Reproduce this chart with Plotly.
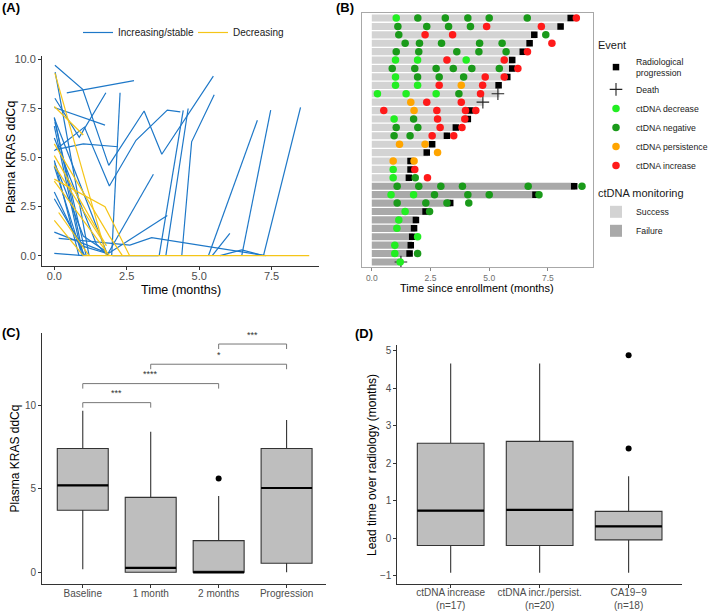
import plotly.graph_objects as go

W, H = 709, 611
def px(x): return x / W
def py(y): return 1 - y / H

# ---------------- Panel A data: trajectories ----------------
inc_x = [
    [0.02, 0.98, 1.88, 3.10, 3.71, 5.49],
    [0.43, 2.75],
    [0.00, 1.75],
    [0.02, 0.86, 1.78],
    [0.00, 1.04, 1.90, 2.82, 3.90, 4.35],
    [0.05, 1.00, 2.20],
    [1.98, 2.27],
    [1.81, 3.42],
    [1.85, 3.90],
    [3.62, 4.45],
    [3.85, 4.62],
    [4.40, 4.74, 5.52],
    [5.32, 7.01],
    [6.47, 7.47],
    [7.22, 8.50],
    [5.45, 6.06],
    [5.72, 6.47, 7.22],
    [0.15, 2.61, 3.36, 7.30],
    [0.00, 1.86],
    [0.00, 1.00],
    [0.00, 1.00],
    [0.02, 1.10],
    [0.00, 0.95],
    [0.00, 0.85],
    [0.00, 0.90],
    [0.00, 1.05],
    [0.03, 1.20],
    [0.00, 1.85],
    [0.00, 1.45, 1.85],
    [0.00, 0.95, 1.85],
    [2.00, 3.60],
    [0.02, 1.00, 1.80],
]
inc_y = [
    [9.70, 8.48, 4.60, 7.37, 5.17, 9.15],
    [8.30, 8.92],
    [7.55, 6.65],
    [8.02, 6.03, 8.30],
    [5.35, 6.55, 3.55, 5.88, 7.42, 7.33],
    [5.40, 5.70, 5.55],
    [0.00, 8.30],
    [0.00, 4.15],
    [0.10, 2.05],
    [0.00, 7.40],
    [0.00, 7.50],
    [0.00, 5.80, 8.20],
    [0.00, 6.90],
    [0.00, 7.42],
    [0.00, 7.56],
    [0.00, 1.14],
    [0.00, 0.30, 0.00],
    [0.88, 0.54, 0.92, 0.00],
    [1.20, 0.12],
    [0.12, 0.00],
    [7.05, 0.00],
    [6.80, 0.00],
    [6.60, 0.05],
    [4.85, 0.00],
    [4.55, 0.30],
    [3.25, 0.00],
    [9.35, 0.00],
    [7.00, 0.00],
    [6.00, 0.60, 0.00],
    [2.90, 0.50, 0.10],
    [0.00, 0.00],
    [4.70, 1.00, 0.20],
]
dec_x = [
    [0.02, 1.80],
    [0.00, 1.00],
    [0.00, 1.75, 2.60],
    [0.00, 1.90, 2.35],
    [0.00, 1.80],
    [0.00, 1.60],
    [0.00, 1.00],
    [0.15, 1.20],
    [0.00, 1.90],
    [1.00, 8.80],
]
dec_y = [
    [9.30, 0.00],
    [7.60, 6.15],
    [3.90, 2.50, 0.00],
    [5.70, 1.00, 0.00],
    [5.10, 0.50],
    [4.60, 0.90],
    [1.80, 0.00],
    [2.20, 0.00],
    [3.80, 0.00],
    [0.00, 0.00],
]

# ---------------- Panel B data ----------------
rows = list(range(1, 31))
bar_end = [8.57, 8.14, 7.00, 6.79, 6.49, 6.05, 6.05, 5.82, 5.47, 5.44,
           4.76, 4.26, 4.13, 3.64, 3.25, 2.63, 2.40, 1.70, 1.70, 1.63,
           8.66, 7.02, 3.37, 2.34, 1.95, 1.86, 1.76, 1.72, 1.65, 1.14]
monitoring = ["Success"] * 20 + ["Failure"] * 10

prog_row = [1, 2, 3, 4, 5, 6, 7, 8, 9, 12, 13, 14, 15, 16, 17, 18, 19, 20,
            21, 22, 23, 24, 25, 26, 27, 28, 29]
prog_t = [8.47, 8.04, 6.92, 6.72, 6.43, 5.98, 5.98, 5.77, 5.40, 4.20, 4.09, 3.58,
          3.20, 2.57, 2.34, 1.65, 1.65, 1.58, 8.62, 6.97, 3.34, 2.29, 1.88, 1.80,
          1.72, 1.66, 1.61]
death_row = [10, 11, 30]
death_t = [5.37, 4.73, 1.24]
decr_row = [1, 6, 6, 6, 8, 9, 9, 10, 10, 10, 13, 19, 20, 22, 22, 24, 25, 26, 27, 28, 29, 30]
decr_t = [1.04, 1.01, 1.95, 4.02, 1.01, 1.01, 1.95, 0.24, 1.46, 2.74, 0.95, 0.91, 0.91,
          0.82, 1.78, 1.42, 1.15, 1.07, 1.95, 0.98, 0.98, 1.21]
neg_row = [1, 1, 1, 1, 1, 2, 2, 2, 2, 3, 3, 4, 4, 4, 4, 4, 5, 5, 5, 5, 5,
           7, 7, 7, 7, 7, 7, 8, 8, 8, 10, 13, 14, 14, 15, 15, 20,
           21, 21, 21, 21, 21, 21, 22, 22, 22, 22, 23, 23, 23, 23, 24, 29]
neg_t = [1.96, 3.13, 4.09, 5.00, 6.62, 1.11, 2.34, 3.27, 4.20, 1.15, 7.41,
         1.42, 2.03, 2.97, 4.59, 5.55, 1.04, 2.00, 3.62, 4.56, 5.72,
         0.87, 1.83, 2.74, 3.47, 4.26, 5.43, 1.95, 2.87, 3.91, 3.71, 1.78,
         1.04, 1.96, 0.95, 1.63, 1.85,
         1.08, 2.00, 2.94, 3.86, 6.66, 8.95, 2.67, 4.09, 5.00, 7.12,
         1.08, 2.30, 3.20, 4.13, 2.46, 1.95]
pers_row = [9, 11, 12, 16, 16, 17, 18, 18]
pers_t = [3.81, 1.66, 1.80, 1.18, 2.27, 2.80, 0.91, 1.80]
incr_row = [1, 2, 2, 3, 3, 4, 5, 6, 6, 7, 8, 8, 9, 9, 10, 11, 11, 12, 12, 12, 12,
            13, 13, 14, 14, 15, 15, 19, 20]
incr_t = [8.71, 4.89, 7.22, 2.27, 3.44, 7.67, 6.63, 3.20, 5.64, 6.22, 4.83, 5.64,
          2.87, 4.72, 4.63, 2.34, 3.81, 0.51, 2.77, 3.99, 4.43, 2.80, 3.96,
          2.91, 3.84, 2.57, 3.49, 1.83, 2.37]

# ---------------- Panel C data ----------------
c_cats = ["Baseline", "1 month", "2 months", "Progression"]
c_low = [0.18, 0.00, 0.00, 0.00]
c_q1 = [3.72, 0.00, 0.00, 0.54]
c_med = [5.21, 0.26, 0.00, 5.05]
c_q3 = [7.41, 4.49, 1.90, 7.41]
c_high = [9.67, 8.42, 4.57, 9.12]
c_out_pos = [2]
c_out_val = [5.61]
c_sig_from = [0, 0, 1, 2]
c_sig_to = [1, 2, 3, 3]
c_sig_y = [10.16, 11.30, 12.46, 13.67]
c_sig_label = ["***", "****", "*", "***"]

# ---------------- Panel D data ----------------
d_cats = ["ctDNA increase<br>(n=17)", "ctDNA incr./persist.<br>(n=20)", "CA19\u22129<br>(n=18)"]
d_low = [-0.93, -0.93, -0.93]
d_q1 = [-0.20, -0.20, -0.05]
d_med = [0.73, 0.75, 0.31]
d_q3 = [2.53, 2.58, 0.71]
d_high = [4.66, 4.66, 1.65]
d_out_pos = [2, 2]
d_out_val = [2.39, 4.88]

BLUE = "#1E78C8"
YELLOW = "#F5C518"
FONT = "Liberation Sans, Arial, sans-serif"

fig = go.Figure()

def join(xs, ys):
    X, Y = [], []
    for a, b in zip(xs, ys):
        X += a + [None]
        Y += b + [None]
    return X, Y

ix, iy = join(inc_x, inc_y)
dx, dy = join(dec_x, dec_y)
fig.add_trace(go.Scatter(x=ix, y=iy, mode="lines", line=dict(color=BLUE, width=1.2),
                         name="Increasing/stable", legend="legend3", xaxis="x", yaxis="y"))
fig.add_trace(go.Scatter(x=dx, y=dy, mode="lines", line=dict(color=YELLOW, width=1.2),
                         name="Decreasing", legend="legend3", xaxis="x", yaxis="y"))

# Panel B bars
for lab, col in [("Success", "#D3D3D3"), ("Failure", "#A9A9A9")]:
    xs = [e for e, m in zip(bar_end, monitoring) if m == lab]
    ys = [r for r, m in zip(rows, monitoring) if m == lab]
    fig.add_trace(go.Bar(x=xs, y=ys, base=0, orientation="h", width=0.85,
                         marker=dict(color=col, line=dict(width=0)), name=lab,
                         legend="legend2", xaxis="x2", yaxis="y2"))

fig.add_trace(go.Scatter(x=prog_t, y=prog_row, mode="markers", name="Radiological<br>progression",
                         marker=dict(symbol="square", size=6.5, color="black"),
                         legend="legend", xaxis="x2", yaxis="y2"))
fig.add_trace(go.Scatter(x=death_t, y=death_row, mode="markers", name="Death",
                         marker=dict(symbol="cross-thin", size=9, color="#222",
                                     line=dict(width=1.1, color="#222")),
                         legend="legend", xaxis="x2", yaxis="y2"))
for name, t, r, col in [("ctDNA decrease", decr_t, decr_row, "#22EE22"),
                        ("ctDNA negative", neg_t, neg_row, "#1A9A1A"),
                        ("ctDNA persistence", pers_t, pers_row, "#FFA500"),
                        ("ctDNA increase", incr_t, incr_row, "#FF1A1A")]:
    fig.add_trace(go.Scatter(x=t, y=r, mode="markers", name=name,
                             marker=dict(symbol="circle", size=7.5, color=col),
                             legend="legend", xaxis="x2", yaxis="y2"))

# Panel C boxes
fig.add_trace(go.Box(x=list(range(4)), q1=c_q1, median=c_med, q3=c_q3,
                     lowerfence=c_low, upperfence=c_high, width=0.75, whiskerwidth=0,
                     fillcolor="#BEBEBE", line=dict(color="#333333", width=1.1),
                     boxpoints=False, showlegend=False, xaxis="x3", yaxis="y3"))
mx, my = [], []
for i, m in enumerate(c_med):
    mx += [i - 0.375, i + 0.375, None]
    my += [m, m, None]
fig.add_trace(go.Scatter(x=mx, y=my, mode="lines", line=dict(color="black", width=2.2),
                         showlegend=False, xaxis="x3", yaxis="y3", hoverinfo="skip"))
fig.add_trace(go.Scatter(x=c_out_pos, y=c_out_val, mode="markers",
                         marker=dict(color="black", size=6), showlegend=False,
                         xaxis="x3", yaxis="y3"))
bx, by = [], []
for a, b, yv in zip(c_sig_from, c_sig_to, c_sig_y):
    bx += [a, a, b, b, None]
    by += [yv - 0.3, yv, yv, yv - 0.3, None]
fig.add_trace(go.Scatter(x=bx, y=by, mode="lines", line=dict(color="#777777", width=1),
                         showlegend=False, xaxis="x3", yaxis="y3", hoverinfo="skip"))

# Panel D boxes
fig.add_trace(go.Box(x=list(range(3)), q1=d_q1, median=d_med, q3=d_q3,
                     lowerfence=d_low, upperfence=d_high, width=0.75, whiskerwidth=0,
                     fillcolor="#BEBEBE", line=dict(color="#333333", width=1.1),
                     boxpoints=False, showlegend=False, xaxis="x4", yaxis="y4"))
mx, my = [], []
for i, m in enumerate(d_med):
    mx += [i - 0.375, i + 0.375, None]
    my += [m, m, None]
fig.add_trace(go.Scatter(x=mx, y=my, mode="lines", line=dict(color="black", width=2.2),
                         showlegend=False, xaxis="x4", yaxis="y4", hoverinfo="skip"))
fig.add_trace(go.Scatter(x=d_out_pos, y=d_out_val, mode="markers",
                         marker=dict(color="black", size=6), showlegend=False,
                         xaxis="x4", yaxis="y4"))

tick_common = dict(showgrid=False, zeroline=False, showline=True, linecolor="#333333",
                   linewidth=1, ticks="outside", ticklen=3, tickcolor="#333333",
                   automargin=False,
                   tickfont=dict(family=FONT, size=10, color="#4D4D4D"))
font11 = dict(family=FONT, size=11, color="#4D4D4D")

fig.update_layout(
    width=W, height=H, margin=dict(l=0, r=0, t=0, b=0, autoexpand=False),
    paper_bgcolor="white", plot_bgcolor="white",
    font=dict(family=FONT, color="#1A1A1A"),
    xaxis=dict(domain=[px(42), px(319)], range=[-0.425, 9.137], anchor="y",
               tickvals=[0, 2.5, 5, 7.5], ticktext=["0.0", "2.5", "5.0", "7.5"],
               ticklabelstandoff=-3, **{**tick_common, "tickfont": font11}),
    yaxis=dict(domain=[py(266), py(55.5)], range=[-0.525, 10.2], anchor="x",
               tickvals=[0, 2.5, 5, 7.5, 10], ticktext=["0.0", "2.5", "5.0", "7.5", "10.0"],
               **{**tick_common, "tickfont": font11}),
    xaxis2=dict(domain=[px(361.7), px(593)], range=[-0.43, 9.42], anchor="y2",
                tickvals=[0, 2.5, 5, 7.5], ticktext=["0.0", "2.5", "5.0", "7.5"],
                showgrid=False, zeroline=False, showline=True, mirror=True, automargin=False,
                linecolor="#A8A8A8", linewidth=1, ticks="outside", ticklen=3,
                tickcolor="#888888", tickfont=dict(family=FONT, size=8.5, color="#6E6E6E")),
    yaxis2=dict(domain=[py(267), py(13)], range=[30.6, 0.4], anchor="x2",
                showgrid=False, zeroline=False, showline=True, mirror=True, automargin=False,
                linecolor="#A8A8A8", linewidth=1, showticklabels=False, ticks=""),
    xaxis3=dict(domain=[px(42), px(326)], range=[-0.6, 3.58], anchor="y3",
                tickvals=[0, 1, 2, 3], ticktext=c_cats, ticklabelstandoff=-3, **tick_common),
    yaxis3=dict(domain=[py(584), py(333)], range=[-0.70, 14.33], anchor="x3",
                tickvals=[0, 5, 10], **tick_common),
    xaxis4=dict(domain=[px(397.3), px(682)], range=[-0.6, 2.6], anchor="y4",
                tickvals=[0, 1, 2], ticktext=d_cats, ticklabelstandoff=-4, **tick_common),
    yaxis4=dict(domain=[py(584), py(345)], range=[-1.228, 5.152], anchor="x4",
                tickvals=[-1, 0, 1, 2, 3, 4, 5], **tick_common),
    legend=dict(x=px(596), y=py(35), xanchor="left", yanchor="top",
                bgcolor="rgba(0,0,0,0)", font=dict(family=FONT, size=8.7, color="#1A1A1A"),
                title=dict(text="Event", font=dict(family=FONT, size=11)),
                tracegroupgap=0, itemsizing="trace"),
    legend2=dict(x=px(596), y=py(183), xanchor="left", yanchor="top",
                 bgcolor="rgba(0,0,0,0)", font=dict(family=FONT, size=8.7, color="#1A1A1A"),
                 title=dict(text="ctDNA monitoring", font=dict(family=FONT, size=11)),
                 tracegroupgap=0),
    legend3=dict(x=px(78), y=py(18), xanchor="left", yanchor="top", orientation="h",
                 entrywidth=70, entrywidthmode="pixels",
                 bgcolor="rgba(0,0,0,0)", font=dict(family=FONT, size=10, color="#1A1A1A")),
    barmode="overlay",
)

ann = []
def add_text(text, x, y, size, angle=0, color="black", bold=False):
    ann.append(dict(text=("<b>%s</b>" % text) if bold else text, x=px(x), y=py(y),
                    xref="paper", yref="paper", xanchor="center", yanchor="middle",
                    showarrow=False, textangle=angle,
                    font=dict(family=FONT, size=size, color=color)))

add_text("(A)", 11, 8, 13, bold=True)
add_text("(B)", 345, 8, 13, bold=True)
add_text("(C)", 11, 332, 13, bold=True)
add_text("(D)", 364, 333, 13, bold=True)
add_text("Time (months)", 181.3, 290, 12.5)
add_text("Plasma KRAS ddCq", 10.5, 156.7, 12.5, angle=-90)
add_text("Time since enrollment (months)", 476.7, 288, 11)
add_text("Plasma KRAS ddCq", 15.3, 458.3, 12, angle=-90)
add_text("Lead time over radiology (months)", 372, 465, 12, angle=-90)
for a, b, yv, lab in zip(c_sig_from, c_sig_to, c_sig_y, c_sig_label):
    ann.append(dict(text=lab, x=(a + b) / 2, y=yv + 0.15, xref="x3", yref="y3",
                    xanchor="center", yanchor="bottom", showarrow=False,
                    font=dict(family=FONT, size=9, color="#333333")))
fig.update_layout(annotations=ann)

fig.write_html("out.html", config={"displayModeBar": False},
               post_script="document.body.style.margin='0px';document.body.style.padding='0px';")
